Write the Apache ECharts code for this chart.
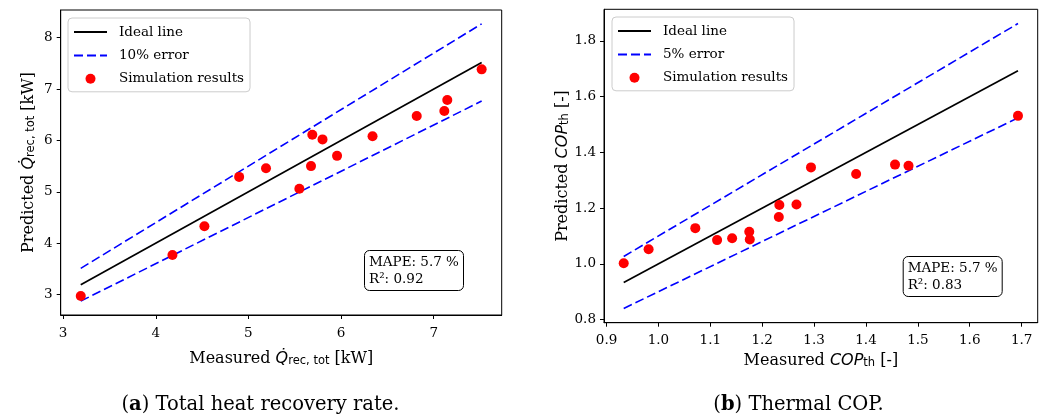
<!DOCTYPE html>
<html>
<head>
<meta charset="utf-8">
<script src="https://cdn.jsdelivr.net/npm/echarts@6/dist/echarts.min.js"></script>
<style>
  html, body { margin: 0; padding: 0; background: #fff; }
  #chart { width: 1045px; height: 418px; }
</style>
</head>
<body>
<div id="chart"></div>
<script>
// (a) Total heat recovery rate [kW]: measured vs. predicted
const measuredHeat = [3.19, 4.18, 4.525, 4.90, 5.19, 5.55, 5.676, 5.69, 5.80, 5.957, 6.34, 6.817, 7.115, 7.147, 7.518];
const predictedHeat = [2.97, 3.77, 4.33, 5.29, 5.46, 5.06, 5.50, 6.11, 6.02, 5.70, 6.08, 6.476, 6.573, 6.787, 7.384];
const heatXTicks = [3, 4, 5, 6, 7];
const heatYTicks = [3, 4, 5, 6, 7, 8];
const heatBand = 0.10;
const heatBandLabel = '10% error';
const heatMape = 5.7;
const heatR2 = 0.92;

// (b) Thermal COP [-]: measured vs. predicted
const measuredCop = [0.933, 0.981, 1.071, 1.113, 1.142, 1.175, 1.176, 1.232, 1.233, 1.266, 1.294, 1.381, 1.456, 1.482, 1.693];
const predictedCop = [1.002, 1.052, 1.128, 1.085, 1.092, 1.115, 1.087, 1.168, 1.211, 1.213, 1.346, 1.322, 1.356, 1.352, 1.531];
const copXTicks = [0.9, 1.0, 1.1, 1.2, 1.3, 1.4, 1.5, 1.6, 1.7];
const copYTicks = [0.8, 1.0, 1.2, 1.4, 1.6, 1.8];
const copBand = 0.10;
const copBandLabel = '5% error';
const copMape = 5.7;
const copR2 = 0.83;

const SERIF = 'DejaVu Serif';
const SANS = 'DejaVu Sans';

// axis limits with a 5 % margin around everything drawn
function limits(meas, pred, band) {
  const xlo = Math.min(...meas), xhi = Math.max(...meas);
  const ylo = Math.min(xlo * (1 - band), ...pred), yhi = Math.max(xhi * (1 + band), ...pred);
  const mx = (xhi - xlo) * 0.05, my = (yhi - ylo) * 0.05;
  return { xlo, xhi, x: [xlo - mx, xhi + mx], y: [ylo - my, yhi + my] };
}

const limA = limits(measuredHeat, predictedHeat, heatBand);
const limB = limits(measuredCop, predictedCop, copBand);

const nameRich = {
  q: { fontFamily: SANS, fontStyle: 'italic', fontSize: 16, color: '#000' },
  s: { fontFamily: SANS, fontSize: 11.5, color: '#000', verticalAlign: 'bottom', lineHeight: 8 }
};

function axisCfg(idx, range, ticks, name, gap, labelMargin, fmt) {
  return {
    type: 'value', gridIndex: idx, min: range[0], max: range[1],
    name: name, nameLocation: 'middle', nameGap: gap,
    nameTextStyle: { fontFamily: SERIF, fontSize: 16, color: '#000', rich: nameRich },
    axisLine: { show: true, onZero: false, lineStyle: { color: '#000', width: 1 } },
    axisTick: { show: true, length: 4, customValues: ticks, lineStyle: { color: '#000' } },
    axisLabel: { customValues: ticks, fontFamily: SERIF, fontSize: 13.5, color: '#000', margin: labelMargin, formatter: fmt },
    splitLine: { show: false }
  };
}

function seriesFor(idx, lim, meas, pred, band, bandLabel) {
  const lineBase = { type: 'line', xAxisIndex: idx, yAxisIndex: idx, symbol: 'none', silent: true, animation: false };
  const dash = { color: '#0000ff', width: 1.6, type: [9, 4] };
  return [
    Object.assign({}, lineBase, {
      name: 'Ideal line', z: 2,
      data: [[lim.xlo, lim.xlo], [lim.xhi, lim.xhi]],
      lineStyle: { color: '#000', width: 1.7 }, itemStyle: { color: '#000' }
    }),
    Object.assign({}, lineBase, {
      name: bandLabel, z: 3,
      data: [[lim.xlo, lim.xlo * (1 + band)], [lim.xhi, lim.xhi * (1 + band)]],
      lineStyle: dash, itemStyle: { color: '#0000ff' }
    }),
    Object.assign({}, lineBase, {
      name: bandLabel, z: 3,
      data: [[lim.xlo, lim.xlo * (1 - band)], [lim.xhi, lim.xhi * (1 - band)]],
      lineStyle: dash, itemStyle: { color: '#0000ff' }
    }),
    {
      type: 'scatter', name: 'Simulation results', xAxisIndex: idx, yAxisIndex: idx, z: 4,
      symbol: 'circle', symbolSize: 10, animation: false,
      itemStyle: { color: '#ff0000', opacity: 1 },
      data: meas.map((m, i) => [m, pred[i]])
    }
  ];
}

function legendCfg(left, top, bandLabel) {
  // line entries show only their stroke, no marker
  const noMarker = { opacity: 0 };
  return {
    left: left, top: top, orient: 'vertical', selectedMode: false,
    data: [
      { name: 'Ideal line', itemStyle: noMarker },
      { name: bandLabel, itemStyle: noMarker },
      { name: 'Simulation results' }
    ],
    itemWidth: 33, itemHeight: 10, itemGap: 9.4,
    padding: [7, 6, 6, 5],
    backgroundColor: 'rgba(255,255,255,0.85)', borderColor: '#cccccc', borderWidth: 1, borderRadius: 4,
    textStyle: { fontFamily: SERIF, fontSize: 13.5, color: '#000', padding: [0, 0, 0, 7] },
    z: 10
  };
}

function statBox(left, top, mape, r2) {
  return {
    left: left, top: top,
    text: 'MAPE: ' + mape.toFixed(1) + ' %\nR²: ' + r2.toFixed(2),
    padding: [4, 5, 3, 5],
    backgroundColor: '#fff', borderColor: '#000', borderWidth: 1, borderRadius: 5,
    textStyle: { fontFamily: SERIF, fontSize: 13.5, fontWeight: 'normal', color: '#000', lineHeight: 17 },
    z: 10
  };
}

function caption(x, letter, text) {
  return {
    type: 'text', x: x, y: 405,
    style: {
      text: '({b|' + letter + '}) ' + text,
      fontFamily: SERIF, fontSize: 19.5, fill: '#000',
      align: 'center', verticalAlign: 'middle',
      rich: { b: { fontFamily: SERIF, fontSize: 19.5, fontWeight: 'bold', fill: '#000' } }
    }
  };
}

const chart = echarts.init(document.getElementById('chart'), null, { renderer: 'canvas' });
chart.setOption({
  backgroundColor: '#fff',
  animation: false,
  grid: [
    { left: 60.7, top: 10, width: 441, height: 305, show: true, borderColor: '#000', borderWidth: 1, backgroundColor: 'transparent', containLabel: false, outerBoundsMode: 'none' },
    { left: 604, top: 9.3, width: 433.7, height: 313.4, show: true, borderColor: '#000', borderWidth: 1, backgroundColor: 'transparent', containLabel: false, outerBoundsMode: 'none' }
  ],
  xAxis: [
    axisCfg(0, limA.x, heatXTicks, 'Measured {q|Q\u0307}{s|rec, tot} [kW]', 36, 11, v => String(v)),
    axisCfg(1, limB.x, copXTicks, 'Measured {q|COP}{s|th} [-]', 28, 11, v => v.toFixed(1))
  ],
  yAxis: [
    axisCfg(0, limA.y, heatYTicks, 'Predicted {q|Q\u0307}{s|rec, tot} [kW]', 24, 8, v => String(v)),
    axisCfg(1, limB.y, copYTicks, 'Predicted {q|COP}{s|th} [-]', 23, 8, v => v.toFixed(1))
  ],
  legend: [legendCfg(68, 18, heatBandLabel), legendCfg(612, 17, copBandLabel)],
  title: [statBox(364, 250, heatMape, heatR2), statBox(902.7, 256, copMape, copR2)],
  series: [].concat(
    seriesFor(0, limA, measuredHeat, predictedHeat, heatBand, heatBandLabel),
    seriesFor(1, limB, measuredCop, predictedCop, copBand, copBandLabel)
  ),
  graphic: [
    caption(260.5, 'a', 'Total heat recovery rate.'),
    caption(798.5, 'b', 'Thermal COP.')
  ]
});
</script>
</body>
</html>
